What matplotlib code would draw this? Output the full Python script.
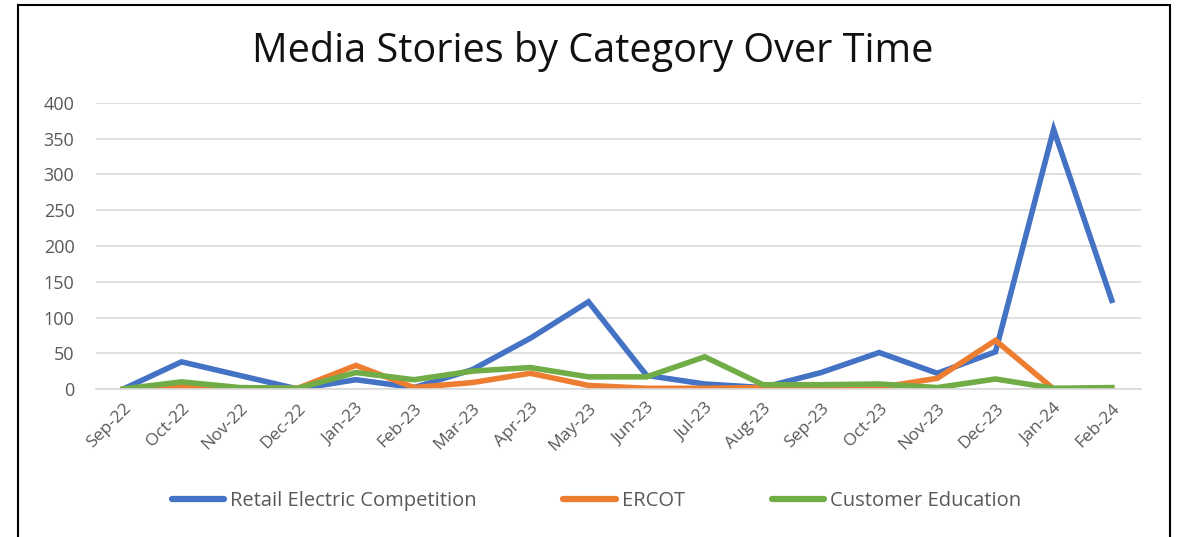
"""Media stories by category, monthly line chart."""

import matplotlib
matplotlib.use("Agg")
import matplotlib.pyplot as plt
from matplotlib.patches import Rectangle

months = ["Sep-22", "Oct-22", "Nov-22", "Dec-22", "Jan-23", "Feb-23",
          "Mar-23", "Apr-23", "May-23", "Jun-23", "Jul-23", "Aug-23",
          "Sep-23", "Oct-23", "Nov-23", "Dec-23", "Jan-24", "Feb-24"]
retail = [0, 38, 19, 0, 13, 2, 27, 71, 122, 19, 7, 2, 23, 51, 22, 52, 363, 124]
ercot = [0, 3, 1, 1, 33, 2, 9, 22, 5, 1, 1, 2, 4, 2, 15, 68, 0, 1]
education = [0, 10, 2, 1, 23, 13, 25, 30, 17, 17, 45, 6, 6, 7, 2, 14, 1, 2]
y_ticks = [0, 50, 100, 150, 200, 250, 300, 350, 400]

COLORS = {"retail": "#4472C4", "ercot": "#ED7D31", "education": "#70AD47"}
GREY = "#595959"

plt.rcParams.update({
    "font.family": ["Open Sans", "DejaVu Sans"],
})

fig = plt.figure(figsize=(11.81, 5.37), dpi=100)
ax = fig.add_axes([0.0813, 0.2756, 0.8847, 0.5326])

x = range(len(months))
ax.plot(x, retail, color=COLORS["retail"], linewidth=4.0,
        solid_joinstyle="miter", label="Retail Electric Competition")
ax.plot(x, ercot, color=COLORS["ercot"], linewidth=4.0,
        solid_joinstyle="miter", label="ERCOT")
ax.plot(x, education, color=COLORS["education"], linewidth=4.0,
        solid_joinstyle="miter", label="Customer Education")

ax.set_xlim(-0.47, len(months) - 0.5)
ax.set_ylim(0, 400)
ax.set_yticks(y_ticks)
ax.set_xticks(list(x))
ax.set_xticklabels(months, rotation=45, ha="right", rotation_mode="anchor")
ax.tick_params(axis="both", length=0, colors=GREY, labelsize=13)
ax.tick_params(axis="x", labelsize=12.5, pad=8)
ax.tick_params(axis="y", pad=15.5)
ax.grid(axis="y", color="#D9D9D9", linewidth=1.2)
ax.set_axisbelow(True)
for side in ["top", "right", "left"]:
    ax.spines[side].set_visible(False)
ax.spines["bottom"].set_color("#D9D9D9")
ax.spines["bottom"].set_linewidth(1.2)

fig.text(0.502, 0.904, "Media Stories by Category Over Time",
         ha="center", va="center", fontsize=28.5, color="#111111")

leg = fig.legend(loc="center", bbox_to_anchor=(0.505, 0.067), ncol=3,
                 frameon=False, fontsize=14.5, handlelength=2.6,
                 handletextpad=0.3, columnspacing=4.3)
for txt in leg.get_texts():
    txt.set_color(GREY)
for line in leg.get_lines():
    line.set_linewidth(4.5)
    line.set_solid_capstyle("round")

# outer frame of the chart box
fig.patches.append(Rectangle((18 / 1181, -0.05), 1152 / 1181, 1.05 - 5 / 537,
                             transform=fig.transFigure, fill=False,
                             edgecolor="black", linewidth=1.5))

fig.savefig("out.png", dpi=100)
